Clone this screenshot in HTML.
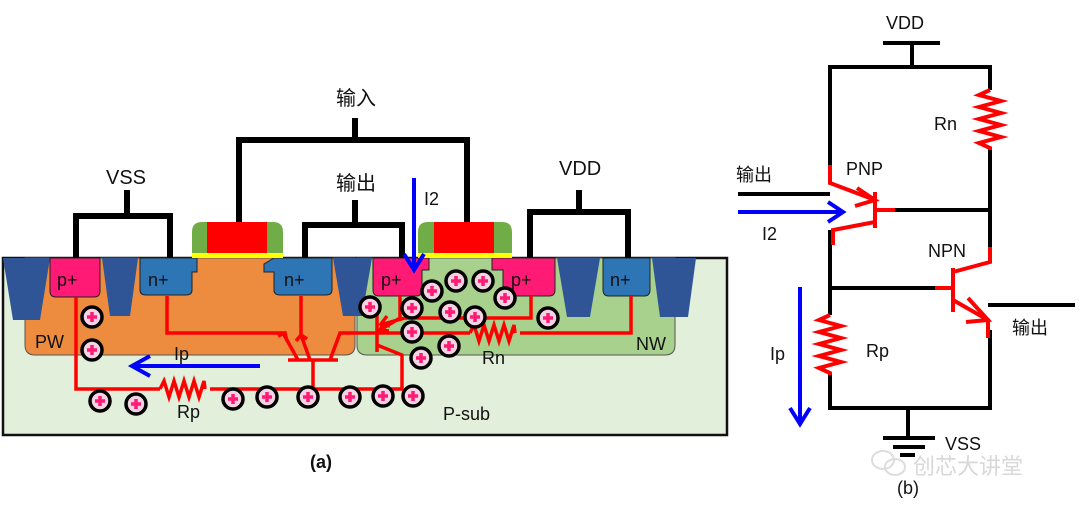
<!DOCTYPE html>
<html><head><meta charset="utf-8"><style>
html,body{margin:0;padding:0;background:#fff}
svg{display:block}
text{font-family:"Liberation Sans","Noto Sans CJK SC",sans-serif;fill:#111}
</style></head><body>
<svg width="1080" height="512" viewBox="0 0 1080 512" xmlns="http://www.w3.org/2000/svg">
<defs>
<g id="h"><circle r="10" fill="#f6d3e2" stroke="#000" stroke-width="3.5"/><path d="M-5 0H5M0 -5V5" stroke="#ff1a75" stroke-width="3.5"/></g>
</defs>
<rect x="3" y="258" width="724" height="177" fill="#e2efda" stroke="#111" stroke-width="2.5"/>
<path d="M25 258H355V345Q355 355 345 355H35Q25 355 25 345Z" fill="#ed8b3f" stroke="#555" stroke-width="1"/>
<path d="M357 258H675V345Q675 355 665 355H367Q357 355 357 345Z" fill="#a9d18e" stroke="#555" stroke-width="1"/>
<g fill="#2f5597">
<path d="M3 258H50L40 320H13Z"/><path d="M102 258H138L130 316H110Z"/>
<path d="M333 258H372L362 316H343Z"/><path d="M557 258H600L590 317H567Z"/>
<path d="M652 258H696L688 317H660Z"/>
</g>
<g stroke="#222" stroke-width="1">
<path d="M50 258H100V291Q100 297 94 297H56Q50 297 50 291Z" fill="#ff1a75"/>
<path d="M140 258H197V272H192V290Q192 295 186 295H146Q140 295 140 290Z" fill="#2e75b6"/>
<path d="M274 258H332V290Q332 295 326 295H280Q274 295 274 290V272H264V264Z" fill="#2e75b6"/>
<path d="M373 258H429V270H422V290Q422 296 416 296H379Q373 296 373 290Z" fill="#ff1a75"/>
<path d="M492 258H555V290Q555 296 549 296H509Q503 296 503 290V270H492Z" fill="#ff1a75"/>
<path d="M603 258H650V290Q650 296 644 296H609Q603 296 603 290Z" fill="#2e75b6"/>
</g>
<path d="M192 258V232Q192 222 202 222H273Q283 222 283 232V258Z" fill="#70ad47"/>
<rect x="207" y="222" width="60" height="31" fill="#f00"/>
<rect x="192" y="253" width="91" height="5" fill="#ff0"/>
<path d="M418 258V232Q418 222 428 222H502Q512 222 512 232V258Z" fill="#70ad47"/>
<rect x="434" y="222" width="60" height="31" fill="#f00"/>
<rect x="418" y="253" width="94" height="5" fill="#ff0"/>
<g stroke="#000" stroke-width="6" fill="none">
<path d="M76 258V216H170V258M127 216V190"/>
<path d="M239 222V140H467V222M355 140V118"/>
<path d="M305 258V225H402V258M355 225V200"/>
<path d="M530 258V212H628V258M579 212V190"/>
</g>
<g stroke="#f00" stroke-width="3.5" fill="none">
<path d="M76 297V389H160M210 389H402V355L377 345"/>
<path d="M160 389l4 -8l5 16l5 -16l5 16l5 -16l5 16l5 -16l5 16l5 -16l1 8"/>
<path d="M167 296V333H283L298 360M301 296V335L310 360"/>
<path d="M278 336l7 -3l2 8M296 341l5 -6l6 4"/>
<path d="M288 360H338M313 360V389M330 360L340 333H470M520 333H631V296"/>
<path d="M470 333l4 -8l5 16l5 -16l5 16l5 -16l5 16l5 -16l5 16l5 -16l1 8"/>
<path d="M377 314V352M400 296V318L380 330M531 296V318H405L380 325"/>
<path d="M384 322l-4 8l9 1M387 316l-6 8l9 2"/>
</g>
<g stroke="#0000ff" stroke-width="4" fill="none">
<path d="M260 366H132M150 356L132 366L150 376"/>
<path d="M414 178V270M404 254L414 270L424 254"/>
</g>
<g>
<use href="#h" x="92" y="317"/><use href="#h" x="92" y="350"/><use href="#h" x="100" y="401"/><use href="#h" x="136" y="404"/>
<use href="#h" x="233" y="399"/><use href="#h" x="267" y="397"/><use href="#h" x="308" y="397"/><use href="#h" x="350" y="397"/>
<use href="#h" x="383" y="396"/><use href="#h" x="413" y="396"/><use href="#h" x="370" y="307"/><use href="#h" x="412" y="308"/>
<use href="#h" x="432" y="291"/><use href="#h" x="456" y="281"/><use href="#h" x="483" y="281"/><use href="#h" x="505" y="298"/>
<use href="#h" x="450" y="312"/><use href="#h" x="475" y="317"/><use href="#h" x="412" y="332"/><use href="#h" x="449" y="346"/>
<use href="#h" x="421" y="358"/><use href="#h" x="548" y="318"/>
</g>
<g font-size="18">
<text x="57" y="286">p+</text><text x="148" y="286">n+</text><text x="284" y="286">n+</text>
<text x="381" y="286">p+</text><text x="511" y="286">p+</text><text x="610" y="286">n+</text>
<text x="35" y="348">PW</text><text x="174" y="360">Ip</text><text x="177" y="418">Rp</text>
<text x="443" y="420">P-sub</text><text x="482" y="364">Rn</text><text x="636" y="350">NW</text>
<text x="106" y="184" font-size="20">VSS</text><text x="336" y="105" font-size="20">输入</text>
<text x="336" y="190" font-size="20">输出</text><text x="424" y="205">I2</text>
<text x="559" y="175" font-size="20">VDD</text>
<text x="310" y="468" font-weight="bold">(a)</text>
</g>
<g stroke="#000" stroke-width="4" fill="none">
<path d="M883 43H940M912 43V67M830 165V67H990V90M990 150V247M875 210H990"/>
<path d="M738 194H830M830 230V315M830 375V408H990V330M830 288H950M988 305H1075"/>
<path d="M908 408V438M883 438H935M893 447H925M900 455H915"/>
</g>
<g stroke="#f00" stroke-width="4" fill="none">
<path d="M990 90l-11 5l22 6l-22 6l22 6l-22 6l22 6l-22 6l22 6l-22 6l11 5V150"/>
<path d="M830 315l-11 5l22 6l-22 6l22 6l-22 6l22 6l-22 6l22 6l-22 6l11 5V375"/>
<path d="M830 165V183L875 200M857 188l18 12l-20 6"/>
<path d="M875 192V228M875 210H895M875 222L833 230V245"/>
<path d="M953 268V312M935 288H953M953 272L990 262V247M953 300L988 320V338M968 298l20 22l-22 2"/>
</g>
<g stroke="#0000ff" stroke-width="4" fill="none">
<path d="M738 212H843M828 202L843 212L828 222"/>
<path d="M800 287V422M790 408L800 424L810 408"/>
</g>
<g font-size="18">
<text x="886" y="29">VDD</text><text x="934" y="130">Rn</text><text x="846" y="175">PNP</text>
<text x="736" y="181">输出</text><text x="762" y="240">I2</text><text x="928" y="257">NPN</text>
<text x="1012" y="334">输出</text><text x="866" y="357">Rp</text><text x="770" y="360">Ip</text>
<text x="945" y="450">VSS</text><text x="897" y="494">(b)</text>
<text x="913" y="474" font-size="22" style="fill:#d8d8d8">创芯大讲堂</text>
</g>
<g fill="none" stroke="#ddd" stroke-width="2"><ellipse cx="883" cy="460" rx="11" ry="9"/><ellipse cx="895" cy="467" rx="10" ry="8"/></g>
</svg>
</body></html>
